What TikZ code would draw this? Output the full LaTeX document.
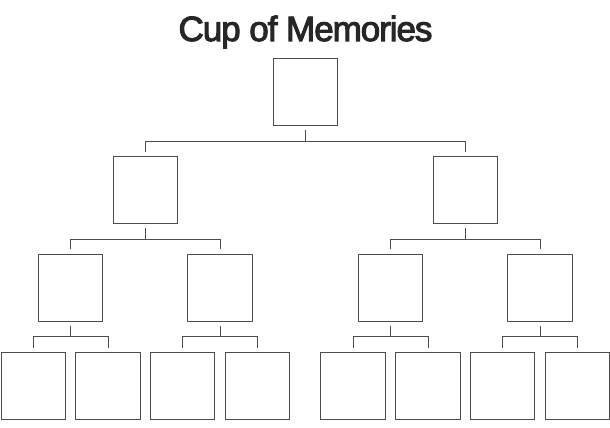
\documentclass[tikz,border=0pt]{standalone}
\usepackage{fontspec}
\setmainfont{Liberation Sans}
\begin{document}
\begin{tikzpicture}[x=1pt,y=-1pt,
  box/.style={draw=black!70,line width=0.9pt,minimum width=64.4pt,minimum height=66.6pt,inner sep=0pt,outer sep=0pt},
  link/.style={draw=black!70,line width=0.8pt}]
\useasboundingbox (0,0) rectangle (610,428);
\node[text=black!85,inner sep=0pt,anchor=base,font=\fontsize{35}{35}\selectfont] (title) at (305.5,41) {\addfontfeature{LetterSpace=-3,FakeBold=3}Cup of Memories};
% level 1
\node[box] (t) at (305.5,92) {};
% level 2
\node[box] (l) at (145.5,190) {};
\node[box] (r) at (465.5,190) {};
% level 3
\node[box] (ll) at (70.3,287.7) {};
\node[box] (lr) at (220,287.7) {};
\node[box] (rl) at (390.3,287.7) {};
\node[box] (rr) at (540,287.7) {};
% level 4
\node[box] (lll) at (33.3,385.8) {};
\node[box] (llr) at (108,385.8) {};
\node[box] (lrl) at (182.7,385.8) {};
\node[box] (lrr) at (257.5,385.8) {};
\node[box] (rll) at (353,385.8) {};
\node[box] (rlr) at (428,385.8) {};
\node[box] (rrl) at (502.7,385.8) {};
\node[box] (rrr) at (577.3,385.8) {};
% bar heights
\coordinate (h1) at (0,141);
\coordinate (h2) at (0,239);
\coordinate (h3) at (0,336.7);
% connectors
\foreach \p/\a/\b/\h in {t/l/r/h1, l/ll/lr/h2, r/rl/rr/h2, ll/lll/llr/h3, lr/lrl/lrr/h3, rl/rll/rlr/h3, rr/rrl/rrr/h3}{
  \draw[link] ([yshift=-5pt]\p.south) -- (\p.south |- \h);
  \draw[link] ([yshift=5pt]\a.north) -- (\a.north |- \h) -- (\b.north |- \h) -- ([yshift=5pt]\b.north);
}
\end{tikzpicture}
\end{document}
